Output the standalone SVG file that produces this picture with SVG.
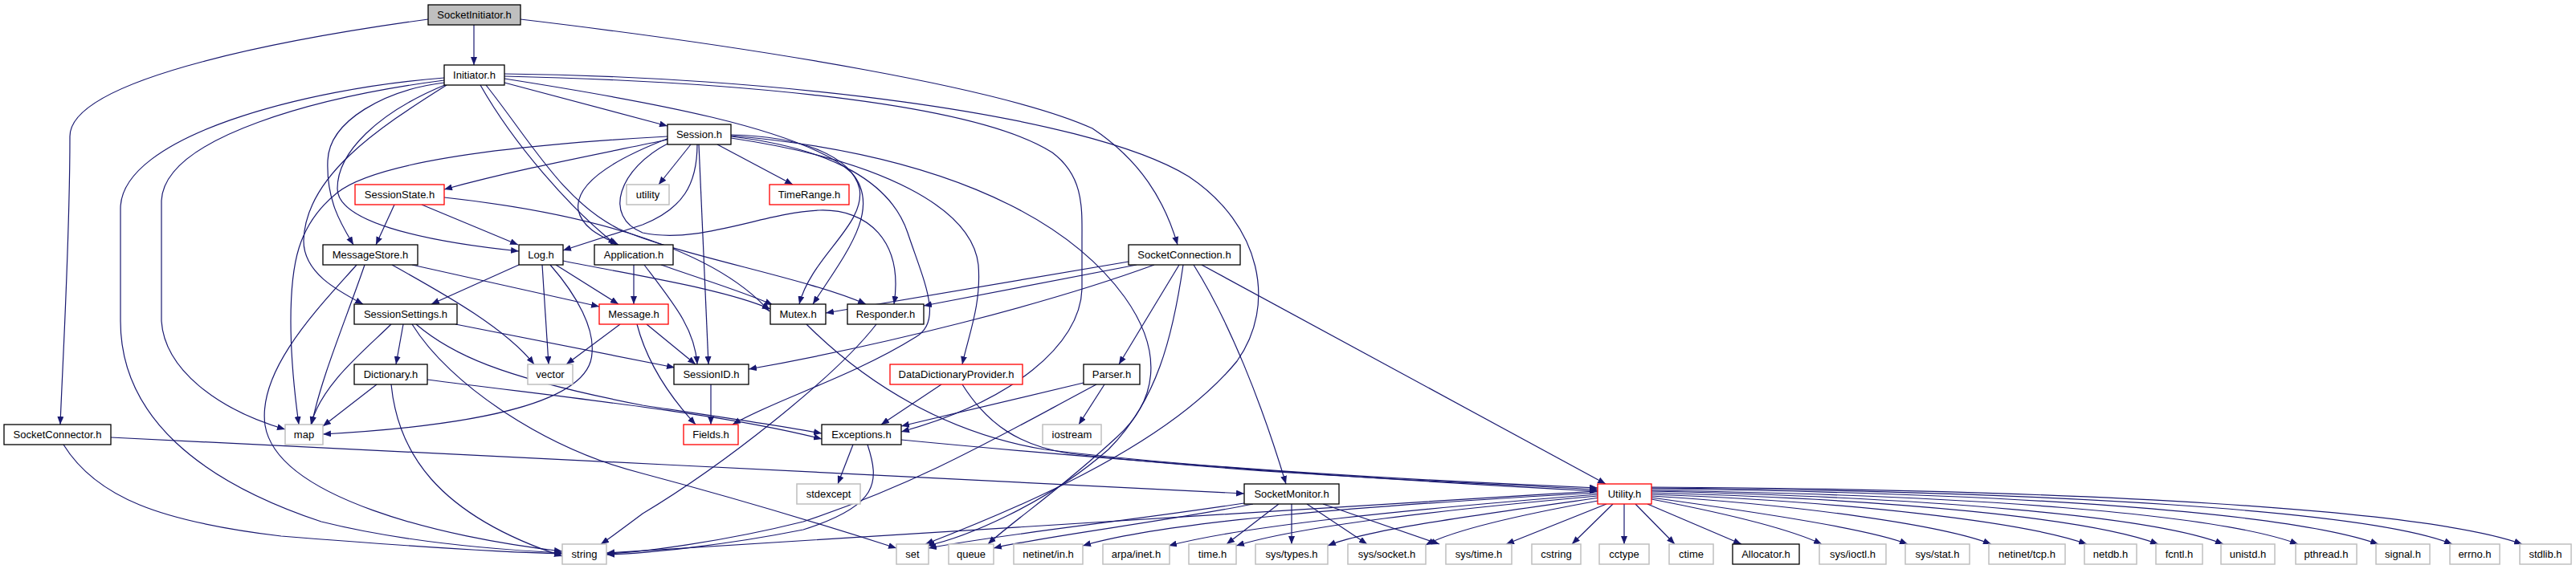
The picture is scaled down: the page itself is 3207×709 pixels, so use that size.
<svg xmlns="http://www.w3.org/2000/svg" width="3207" height="709" viewBox="0 0 3207 709">
<style>
.n rect{fill:#fff;stroke:#000;stroke-width:1.3}
.n.g rect{stroke:#bfbfbf;stroke-width:1.5}
.n.r rect{stroke:#ff0000}
.n.root rect{fill:#bfbfbf}
.n text{font-family:"Liberation Sans",Arial,sans-serif;font-size:13px;text-anchor:middle;fill:#000}
#edges path{fill:none;stroke:#191970;stroke-width:1.2;marker-end:url(#a)}
</style>
<defs>
<marker id="a" markerUnits="userSpaceOnUse" markerWidth="11" markerHeight="8" refX="10" refY="4" orient="auto"><path d="M0,0 L10,4 L0,8 z" fill="#191970"/></marker>
</defs>
<rect width="3207" height="709" fill="#fff"/>
<g id="edges">
<path d="M590,31 L590,81"/>
<path d="M533,24 C380,45 87,95 87,170 C87,300 78,450 75,529"/>
<path d="M648,24 C950,60 1250,110 1360,160 C1420,200 1450,250 1466,305"/>
<path d="M628,103 L831,157"/>
<path d="M598,106 C640,180 710,260 767,305"/>
<path d="M553,103 C480,112 410,150 408,200 C406,250 425,280 440,305"/>
<path d="M556,105 C470,140 420,190 420,235 C420,275 520,300 646,313"/>
<path d="M556,106 C470,160 380,220 378,300 C378,340 420,362 452,379"/>
<path d="M553,100 C400,120 205,170 201,250 L201,400 C205,460 270,510 355,535"/>
<path d="M553,97 C380,110 150,170 150,260 L150,400 C150,520 250,600 400,650 C500,675 620,685 700,689"/>
<path d="M605,106 C660,175 700,250 770,285 C850,320 1000,345 1078,379"/>
<path d="M628,98 C800,125 1000,160 1060,215 C1100,260 1050,320 1012,379"/>
<path d="M628,95 C850,100 1200,120 1310,190 C1350,220 1347,260 1347,300 L1347,360 C1345,430 1260,500 1122,538"/>
<path d="M628,92 C950,95 1350,140 1480,220 C1570,280 1590,380 1540,450 C1450,560 1250,640 1152,678"/>
<path d="M831,174 C730,195 640,212 553,236"/>
<path d="M860,180 L820,230"/>
<path d="M893,180 L987,230"/>
<path d="M868,180 C868,230 850,260 800,280 L701,312"/>
<path d="M870,180 L882,454"/>
<path d="M833,172 C760,200 715,230 720,262 C725,285 750,295 770,305"/>
<path d="M910,168 C1000,170 1060,195 1070,235 C1078,280 1010,320 995,379"/>
<path d="M833,178 C770,210 750,270 800,290 C870,305 950,265 1020,262 C1080,260 1125,300 1113,379"/>
<path d="M910,170 C1040,185 1110,230 1130,290 C1150,350 1175,400 1140,420 C1060,470 960,500 912,529"/>
<path d="M910,172 C1100,200 1210,260 1218,330 C1222,380 1205,420 1198,454"/>
<path d="M831,170 C650,180 470,200 420,240 C370,280 362,330 362,400 C362,450 368,500 372,529"/>
<path d="M910,169 C1150,190 1320,260 1400,370 C1450,440 1440,500 1390,545 C1320,610 1260,650 1230,678"/>
<path d="M491,255 L468,305"/>
<path d="M525,255 L645,305"/>
<path d="M553,246 C700,262 880,300 958,388"/>
<path d="M454,330 C430,400 400,470 388,529"/>
<path d="M444,330 C400,380 320,460 330,530 C345,620 550,670 700,687"/>
<path d="M488,330 C560,370 630,410 665,454"/>
<path d="M513,330 L746,382"/>
<path d="M646,330 L537,379"/>
<path d="M675,330 L683,454"/>
<path d="M685,330 C720,370 740,410 737,440 C735,500 600,530 402,541"/>
<path d="M692,330 L770,379"/>
<path d="M701,325 C800,345 900,360 959,385"/>
<path d="M789,330 L789,379"/>
<path d="M802,330 C840,380 865,410 868,454"/>
<path d="M823,330 C880,350 930,365 962,380"/>
<path d="M487,404 C450,440 400,480 387,529"/>
<path d="M502,404 L493,454"/>
<path d="M513,404 C560,480 680,560 800,590 C950,630 1060,665 1116,683"/>
<path d="M518,404 C560,440 620,470 800,505 C900,520 970,530 1023,540"/>
<path d="M567,404 L840,458"/>
<path d="M469,479 L402,531"/>
<path d="M487,479 C495,560 540,640 700,693"/>
<path d="M532,473 C700,495 900,515 1023,547"/>
<path d="M772,404 L705,454"/>
<path d="M793,404 C805,450 830,490 866,529"/>
<path d="M805,404 L866,454"/>
<path d="M885,479 L885,529"/>
<path d="M1004,404 C1080,480 1180,540 1300,560 C1500,585 1800,600 1989,608"/>
<path d="M1091,404 C1040,470 900,580 800,640 C780,655 760,670 748,678"/>
<path d="M1405,326 L1028,390"/>
<path d="M1415,330 L1150,381"/>
<path d="M1437,330 C1300,380 1100,430 932,460"/>
<path d="M1468,330 L1393,454"/>
<path d="M1473,330 C1460,420 1440,500 1380,560 C1300,630 1200,670 1154,680"/>
<path d="M1486,330 C1530,400 1570,500 1601,603"/>
<path d="M1496,330 L1999,603"/>
<path d="M1349,477 L1122,531"/>
<path d="M1375,479 L1343,529"/>
<path d="M1365,479 C1250,540 1150,600 1000,650 C900,675 800,688 755,690"/>
<path d="M1172,479 L1097,529"/>
<path d="M1198,479 C1230,530 1270,555 1330,565 C1550,590 1800,600 1989,610"/>
<path d="M1062,554 L1043,603"/>
<path d="M1080,554 C1095,600 1095,630 1000,660 C900,680 800,690 755,691"/>
<path d="M1122,548 C1400,575 1750,600 1989,612"/>
<path d="M79,554 C120,620 200,650 350,668 C500,680 620,688 700,690"/>
<path d="M138,545 C500,560 1200,600 1549,615"/>
<path d="M1549,627 C1400,650 1250,665 1156,683"/>
<path d="M1560,628 C1450,650 1300,668 1237,683"/>
<path d="M1592,628 L1527,678"/>
<path d="M1608,628 L1608,678"/>
<path d="M1627,628 L1702,678"/>
<path d="M1647,628 L1792,678"/>
<path d="M1989,612 C1500,640 1000,672 755,689"/>
<path d="M1989,614 C1700,630 1450,650 1348,680"/>
<path d="M1989,616 C1750,635 1550,655 1455,680"/>
<path d="M1989,618 C1800,635 1620,655 1539,680"/>
<path d="M1992,620 C1850,640 1700,660 1653,680"/>
<path d="M1995,623 C1900,640 1810,660 1775,679"/>
<path d="M2000,628 L1875,678"/>
<path d="M2008,628 L1957,678"/>
<path d="M2022,628 L2022,678"/>
<path d="M2036,628 L2085,678"/>
<path d="M2051,628 L2168,678"/>
<path d="M2056,622 C2150,640 2230,660 2268,678"/>
<path d="M2056,620 C2200,640 2330,660 2375,678"/>
<path d="M2056,618 C2250,630 2420,655 2479,678"/>
<path d="M2056,616 C2300,625 2520,650 2598,678"/>
<path d="M2056,614 C2350,622 2600,645 2687,678"/>
<path d="M2056,612 C2400,620 2680,643 2768,678"/>
<path d="M2056,611 C2450,617 2760,640 2861,678"/>
<path d="M2056,609 C2500,614 2850,638 2961,678"/>
<path d="M2056,608 C2550,612 2950,636 3053,678"/>
<path d="M2056,607 C2600,610 3020,635 3140,678"/>
</g>
<g id="n-SocketInitiator" class="n root"><rect x="533" y="6" width="115" height="25"/><text x="590.5" y="23">SocketInitiator.h</text></g>
<g id="n-Initiator" class="n"><rect x="553" y="81" width="75" height="25"/><text x="590.5" y="98">Initiator.h</text></g>
<g id="n-Session" class="n"><rect x="831" y="155" width="79" height="25"/><text x="870.5" y="172">Session.h</text></g>
<g id="n-SessionState" class="n r"><rect x="442" y="230" width="111" height="25"/><text x="497.5" y="247">SessionState.h</text></g>
<g id="n-utility" class="n g"><rect x="780" y="230" width="53" height="25"/><text x="806.5" y="247">utility</text></g>
<g id="n-TimeRange" class="n r"><rect x="958" y="230" width="99" height="25"/><text x="1007.5" y="247">TimeRange.h</text></g>
<g id="n-MessageStore" class="n"><rect x="402" y="305" width="118" height="25"/><text x="461" y="322">MessageStore.h</text></g>
<g id="n-Log" class="n"><rect x="646" y="305" width="55" height="25"/><text x="673.5" y="322">Log.h</text></g>
<g id="n-Application" class="n"><rect x="740" y="305" width="98" height="25"/><text x="789" y="322">Application.h</text></g>
<g id="n-SocketConnection" class="n"><rect x="1405" y="305" width="139" height="25"/><text x="1474.5" y="322">SocketConnection.h</text></g>
<g id="n-SessionSettings" class="n"><rect x="441" y="379" width="128" height="25"/><text x="505" y="396">SessionSettings.h</text></g>
<g id="n-Message" class="n r"><rect x="746" y="379" width="86" height="25"/><text x="789" y="396">Message.h</text></g>
<g id="n-Mutex" class="n"><rect x="959" y="379" width="69" height="25"/><text x="993.5" y="396">Mutex.h</text></g>
<g id="n-Responder" class="n"><rect x="1055" y="379" width="95" height="25"/><text x="1102.5" y="396">Responder.h</text></g>
<g id="n-Dictionary" class="n"><rect x="441" y="454" width="91" height="25"/><text x="486.5" y="471">Dictionary.h</text></g>
<g id="n-vector" class="n g"><rect x="657" y="454" width="56" height="25"/><text x="685" y="471">vector</text></g>
<g id="n-SessionID" class="n"><rect x="839" y="454" width="93" height="25"/><text x="885.5" y="471">SessionID.h</text></g>
<g id="n-DataDictionaryProvider" class="n r"><rect x="1108" y="454" width="165" height="25"/><text x="1190.5" y="471">DataDictionaryProvider.h</text></g>
<g id="n-Parser" class="n"><rect x="1349" y="454" width="70" height="25"/><text x="1384" y="471">Parser.h</text></g>
<g id="n-SocketConnector" class="n"><rect x="5" y="529" width="133" height="25"/><text x="71.5" y="546">SocketConnector.h</text></g>
<g id="n-map" class="n g"><rect x="355" y="529" width="47" height="25"/><text x="378.5" y="546">map</text></g>
<g id="n-Fields" class="n r"><rect x="851" y="529" width="68" height="25"/><text x="885" y="546">Fields.h</text></g>
<g id="n-Exceptions" class="n"><rect x="1023" y="529" width="99" height="25"/><text x="1072.5" y="546">Exceptions.h</text></g>
<g id="n-iostream" class="n g"><rect x="1298" y="529" width="73" height="25"/><text x="1334.5" y="546">iostream</text></g>
<g id="n-stdexcept" class="n g"><rect x="992" y="603" width="79" height="25"/><text x="1031.5" y="620">stdexcept</text></g>
<g id="n-SocketMonitor" class="n"><rect x="1549" y="603" width="118" height="25"/><text x="1608" y="620">SocketMonitor.h</text></g>
<g id="n-Utility" class="n r"><rect x="1989" y="603" width="67" height="25"/><text x="2022.5" y="620">Utility.h</text></g>
<g id="n-string" class="n g"><rect x="700" y="678" width="55" height="25"/><text x="727.5" y="695">string</text></g>
<g id="n-set" class="n g"><rect x="1116" y="678" width="40" height="25"/><text x="1136" y="695">set</text></g>
<g id="n-queue" class="n g"><rect x="1181" y="678" width="56" height="25"/><text x="1209" y="695">queue</text></g>
<g id="n-netinet_in" class="n g"><rect x="1262" y="678" width="86" height="25"/><text x="1305" y="695">netinet/in.h</text></g>
<g id="n-arpa_inet" class="n g"><rect x="1373" y="678" width="83" height="25"/><text x="1414.5" y="695">arpa/inet.h</text></g>
<g id="n-time" class="n g"><rect x="1480" y="678" width="59" height="25"/><text x="1509.5" y="695">time.h</text></g>
<g id="n-sys_types" class="n g"><rect x="1563" y="678" width="90" height="25"/><text x="1608" y="695">sys/types.h</text></g>
<g id="n-sys_socket" class="n g"><rect x="1678" y="678" width="97" height="25"/><text x="1726.5" y="695">sys/socket.h</text></g>
<g id="n-sys_time" class="n g"><rect x="1800" y="678" width="82" height="25"/><text x="1841" y="695">sys/time.h</text></g>
<g id="n-cstring" class="n g"><rect x="1907" y="678" width="61" height="25"/><text x="1937.5" y="695">cstring</text></g>
<g id="n-cctype" class="n g"><rect x="1991" y="678" width="62" height="25"/><text x="2022" y="695">cctype</text></g>
<g id="n-ctime" class="n g"><rect x="2078" y="678" width="55" height="25"/><text x="2105.5" y="695">ctime</text></g>
<g id="n-Allocator" class="n"><rect x="2157" y="678" width="83" height="25"/><text x="2198.5" y="695">Allocator.h</text></g>
<g id="n-sys_ioctl" class="n g"><rect x="2265" y="678" width="83" height="25"/><text x="2306.5" y="695">sys/ioctl.h</text></g>
<g id="n-sys_stat" class="n g"><rect x="2372" y="678" width="80" height="25"/><text x="2412" y="695">sys/stat.h</text></g>
<g id="n-netinet_tcp" class="n g"><rect x="2476" y="678" width="95" height="25"/><text x="2523.5" y="695">netinet/tcp.h</text></g>
<g id="n-netdb" class="n g"><rect x="2595" y="678" width="65" height="25"/><text x="2627.5" y="695">netdb.h</text></g>
<g id="n-fcntl" class="n g"><rect x="2684" y="678" width="58" height="25"/><text x="2713" y="695">fcntl.h</text></g>
<g id="n-unistd" class="n g"><rect x="2765" y="678" width="67" height="25"/><text x="2798.5" y="695">unistd.h</text></g>
<g id="n-pthread" class="n g"><rect x="2858" y="678" width="76" height="25"/><text x="2896" y="695">pthread.h</text></g>
<g id="n-signal" class="n g"><rect x="2958" y="678" width="67" height="25"/><text x="2991.5" y="695">signal.h</text></g>
<g id="n-errno" class="n g"><rect x="3050" y="678" width="62" height="25"/><text x="3081" y="695">errno.h</text></g>
<g id="n-stdlib" class="n g"><rect x="3137" y="678" width="64" height="25"/><text x="3169" y="695">stdlib.h</text></g>
</svg>
